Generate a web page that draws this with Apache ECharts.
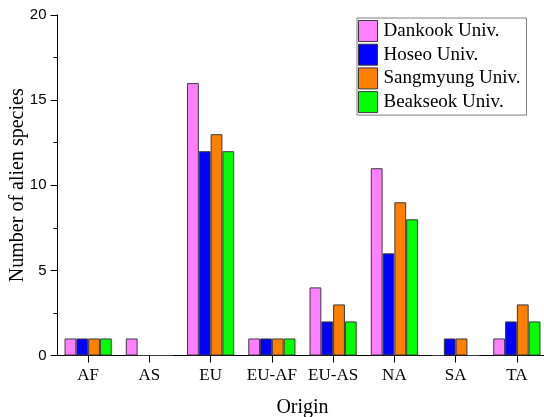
<!DOCTYPE html>
<html><head><meta charset="utf-8">
<script src="https://cdn.jsdelivr.net/npm/echarts@6/dist/echarts.min.js"></script>
<style>html,body{margin:0;padding:0;background:#fff}#c{width:544px;height:417px}</style>
</head><body><div id="c"></div>
<script>
const categories = ['AF','AS','EU','EU-AF','EU-AS','NA','SA','TA'];
const dankook = [1,1,16,1,4,11,0,1];
const hoseo = [1,0,12,1,2,6,1,2];
const sangmyung = [1,0,13,1,3,9,1,3];
const beakseok = [1,0,12,1,2,8,0,2];
const seriesNames = ['Dankook Univ.','Hoseo Univ.','Sangmyung Univ.','Beakseok Univ.'];
const yTicks = [0,5,10,15,20];

const colors = ['#FF80FF','#0000FF','#FF8000','#00FF00'];
const serif = 'Liberation Serif, Times New Roman, serif';
const chart = echarts.init(document.getElementById('c'));
const mk = (name, data, i) => ({
  name, type:'bar', data, barGap:'0%', barCategoryGap:'23%',
  itemStyle:{color:colors[i], borderColor:'#3a3a3a', borderWidth:1, borderRadius:0}
});
chart.setOption({
  animation:false,
  grid:{left:57.5, top:15, width:490, height:340.5, containLabel:false, outerBoundsMode:'none'},
  legend:{
    orient:'vertical', left:357, top:18, icon:'rect',
    itemWidth:19, itemHeight:21, itemGap:1.7,
    padding:[2,6,2,1],
    borderColor:'#808080', borderWidth:1, backgroundColor:'#fff',
    textStyle:{fontFamily:serif, fontSize:19, color:'#000', padding:[0,0,0,1]},
    itemStyle:{borderColor:'#3a3a3a', borderWidth:1},
    data:seriesNames
  },
  xAxis:{
    type:'category', data:categories,
    name:'Origin', nameLocation:'middle', nameGap:42, nameMoveOverlap:false,
    nameTextStyle:{fontFamily:serif, fontSize:20, color:'#000'},
    axisLine:{lineStyle:{color:'#000', width:1}},
    axisTick:{show:true, inside:false, alignWithLabel:true, length:7, lineStyle:{color:'#000', width:1}},
    axisLabel:{interval:0, fontFamily:serif, fontSize:17, color:'#000', margin:12}
  },
  yAxis:{
    type:'value', min:yTicks[0], max:yTicks[yTicks.length-1], interval:5,
    name:'Number of alien species', nameLocation:'middle', nameGap:30, nameMoveOverlap:false,
    nameTextStyle:{fontFamily:serif, fontSize:20, color:'#000'},
    axisLine:{show:true, lineStyle:{color:'#000', width:1}},
    axisTick:{show:true, inside:false, length:7, lineStyle:{color:'#000', width:1}},
    minorTick:{show:true, splitNumber:2, length:4, lineStyle:{color:'#000', width:1}},
    splitLine:{show:false},
    axisLabel:{fontFamily:'Liberation Sans, Arial, sans-serif', fontSize:15, color:'#000', margin:11}
  },
  series:[mk(seriesNames[0],dankook,0),mk(seriesNames[1],hoseo,1),mk(seriesNames[2],sangmyung,2),mk(seriesNames[3],beakseok,3)]
});
</script></body></html>
